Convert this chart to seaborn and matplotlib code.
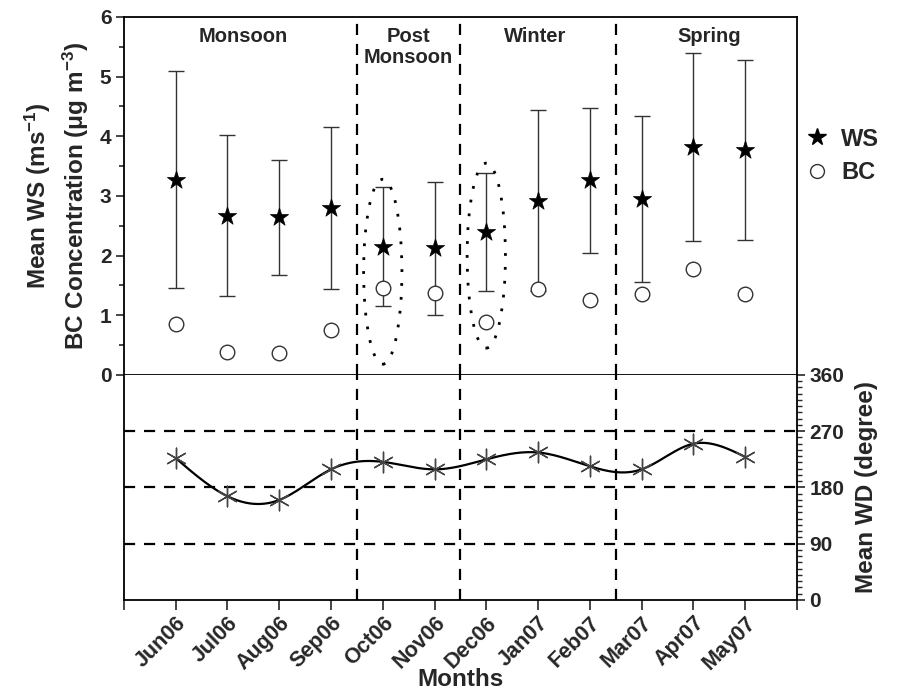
import numpy as np
import pandas as pd
import matplotlib
matplotlib.use("Agg")
import matplotlib.pyplot as plt
import seaborn as sns
from matplotlib.patches import Ellipse
from matplotlib.ticker import MultipleLocator
from matplotlib.lines import Line2D

months = ["Jun06", "Jul06", "Aug06", "Sep06", "Oct06", "Nov06",
          "Dec06", "Jan07", "Feb07", "Mar07", "Apr07", "May07"]
ws_mean = [3.27, 2.67, 2.64, 2.80, 2.15, 2.12, 2.40, 2.92, 3.26, 2.95, 3.82, 3.77]
ws_sd = [1.82, 1.35, 0.97, 1.36, 1.00, 1.11, 0.99, 1.52, 1.21, 1.39, 1.58, 1.51]
bc_conc = [0.85, 0.39, 0.37, 0.75, 1.45, 1.37, 0.88, 1.44, 1.25, 1.36, 1.78, 1.36]
wd_mean = [227, 166, 160, 209, 221, 209, 225, 236, 214, 209, 250, 229]
seasons = ["Monsoon", "Post\nMonsoon", "Winter", "Spring"]
season_x = [1.3, 4.5, 6.95, 10.3]
season_breaks = [3.5, 5.5, 8.5]

df = pd.DataFrame({"x": np.arange(len(months)), "month": months, "ws": ws_mean,
                   "sd": ws_sd, "bc": bc_conc, "wd": wd_mean})

sns.set_theme(style="ticks")
plt.rcParams["font.family"] = ["Liberation Sans", "DejaVu Sans"]
plt.rcParams["font.weight"] = "bold"
plt.rcParams["mathtext.default"] = "regular"


def natural_spline(x, y, n=400):
    # natural cubic spline, only used to draw the smooth connecting curve
    x = np.asarray(x, float)
    y = np.asarray(y, float)
    k = len(x)
    h = np.diff(x)
    A = np.zeros((k, k))
    r = np.zeros(k)
    A[0, 0] = A[-1, -1] = 1
    for i in range(1, k - 1):
        A[i, i - 1] = h[i - 1]
        A[i, i] = 2 * (h[i - 1] + h[i])
        A[i, i + 1] = h[i]
        r[i] = 6 * ((y[i + 1] - y[i]) / h[i] - (y[i] - y[i - 1]) / h[i - 1])
    m = np.linalg.solve(A, r)
    xs = np.linspace(x[0], x[-1], n)
    idx = np.clip(np.searchsorted(x, xs) - 1, 0, k - 2)
    t = xs - x[idx]
    hi = h[idx]
    a = y[idx]
    b = (y[idx + 1] - y[idx]) / hi - hi * (2 * m[idx] + m[idx + 1]) / 6
    c = m[idx] / 2
    d = (m[idx + 1] - m[idx]) / (6 * hi)
    return xs, a + b * t + c * t ** 2 + d * t ** 3


fig = plt.figure(figsize=(8.98, 6.93), dpi=100)
ax1 = fig.add_axes([0.138, 0.4589, 0.7494, 0.5166])
ax2 = fig.add_axes([0.138, 0.1342, 0.7494, 0.3247], sharex=ax1)

# top panel: WS with error bars, BC
ax1.errorbar(df["x"], df["ws"], yerr=df["sd"], fmt="none", ecolor="#333333",
             elinewidth=1.0, capsize=6, capthick=1.0, zorder=2)
sns.scatterplot(data=df, x="x", y="ws", marker="*", s=190, color="black",
                edgecolor="black", linewidth=0.5, ax=ax1, zorder=4)
sns.scatterplot(data=df, x="x", y="bc", marker="o", s=110, facecolor="white",
                edgecolor="#333333", linewidth=1.0, ax=ax1, zorder=4)

for xc, yc in [(4, 1.73), (6, 2.0)]:
    ax1.add_patch(Ellipse((xc, yc), 0.74, 3.1, fill=False, ls=(0, (1, 4)),
                          lw=2.0, ec="black", zorder=3))

ax1.set_ylim(0, 6)
ax1.set_xlim(-1, 12)
ax1.yaxis.set_major_locator(MultipleLocator(1))
ax1.yaxis.set_minor_locator(MultipleLocator(0.5))
ax1.tick_params(axis="y", which="major", direction="out", length=6, width=1.2,
                labelsize=15, pad=3)
ax1.tick_params(axis="y", which="minor", direction="out", length=3.5, width=1.2)
ax1.tick_params(axis="x", which="both", bottom=False, labelbottom=False)
ax1.set_xlabel("")
ax1.set_ylabel("Mean WS (ms$^{-1}$)\nBC Concentration ($\\mu$g m$^{-3}$)",
               fontsize=17.5, fontweight="bold", labelpad=6, linespacing=1.35)
for sp in ax1.spines.values():
    sp.set_linewidth(1.3)
    sp.set_color("black")

for xp, txt in zip(season_x, seasons):
    ax1.text(xp, 5.83, txt, ha="center", va="top", fontsize=14.5,
             fontweight="bold", linespacing=1.1)

# bottom panel: WD
xs, ys = natural_spline(df["x"], df["wd"])
sns.lineplot(x=xs, y=ys, color="black", lw=1.6, ax=ax2, zorder=3)
sns.scatterplot(data=df, x="x", y="wd", marker=(6, 2, 0), s=220, color="#444444",
                edgecolor="#444444", linewidth=1.0, ax=ax2, zorder=4)
for yl in [90, 180, 270]:
    ax2.axhline(yl, color="black", ls=(0, (5, 4)), lw=1.6, zorder=1)

ax2.set_ylim(0, 360)
ax2.yaxis.tick_right()
ax2.yaxis.set_label_position("right")
ax2.set_yticks([0, 90, 180, 270, 360])
ax2.yaxis.set_minor_locator(MultipleLocator(10))
ax2.tick_params(axis="y", which="major", direction="out", length=6, width=1.2,
                labelsize=15, pad=3, left=False, right=True)
ax2.tick_params(axis="y", which="minor", direction="out", length=3.5, width=1.0,
                left=False, right=True)
ax2.set_ylabel("Mean WD (degree)", fontsize=17.5, fontweight="bold", labelpad=8)

ax2.set_xticks([-1] + list(df["x"]) + [12])
ax2.set_xticklabels([""] + months + [""], rotation=45, ha="right",
                    rotation_mode="anchor", fontsize=15.5, fontweight="bold")
ax2.tick_params(axis="x", direction="out", length=7, width=1.2, pad=2)
ax2.set_xlabel("Months", fontsize=17.5, fontweight="bold", va="center")
ax2.xaxis.set_label_coords(0.5, -0.355)
for sp in ax2.spines.values():
    sp.set_linewidth(1.3)
    sp.set_color("black")
ax2.spines["top"].set_visible(False)

for xb in season_breaks:
    ax1.axvline(xb, color="black", ls=(0, (5, 4)), lw=1.6, zorder=1)
    ax2.axvline(xb, color="black", ls=(0, (5, 4)), lw=1.6, zorder=1)

handles = [Line2D([], [], marker="*", ls="none", color="black", markersize=13),
           Line2D([], [], marker="o", ls="none", mfc="white", mec="#333333",
                  markersize=10, mew=1.0)]
fig.legend(handles, ["WS", "BC"], loc="center left", bbox_to_anchor=(0.897, 0.775),
           frameon=False, prop={"size": 17, "weight": "bold"}, handletextpad=0.5,
           handlelength=1.0, labelspacing=0.45, borderpad=0, borderaxespad=0)

fig.savefig("out.png", dpi=100)
